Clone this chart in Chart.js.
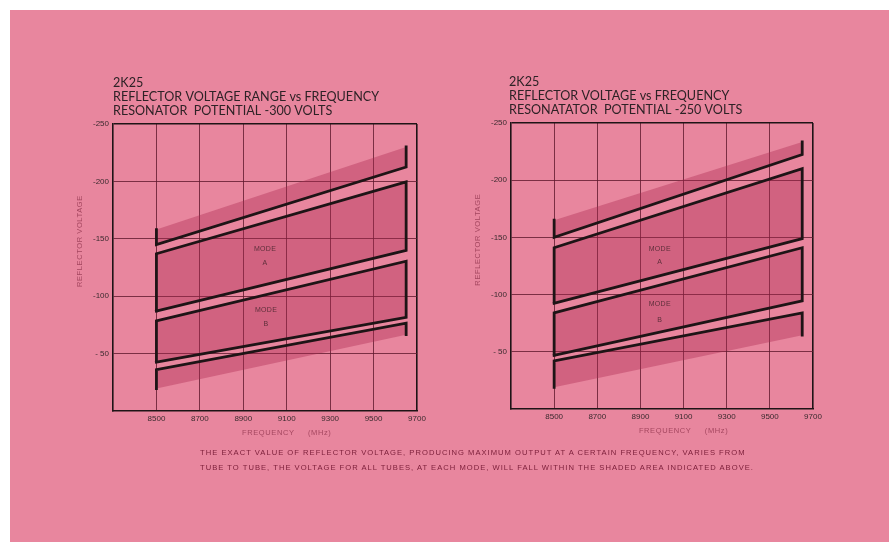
<!DOCTYPE html>
<html>
<head>
<meta charset="utf-8">
<script src="https://cdn.jsdelivr.net/npm/chart.js@4"></script>
<style>
  html, body { margin: 0; padding: 0; background: #fff; }
  #page { position: absolute; left: 10px; top: 10px; width: 879px; height: 532px; background: #e8869e; }
  .box { position: absolute; width: 375px; height: 385px; }
  #note { position: absolute; left: 200px; top: 446px; font: 7.6px "Liberation Sans", sans-serif;
          letter-spacing: 1.02px; line-height: 14.5px; color: #7a1d38; white-space: nowrap; }
</style>
</head>
<body>
<div id="page"></div>
<div class="box" style="left:60px; top:65px"><canvas id="chart300" width="375" height="385"></canvas></div>
<div class="box" style="left:455px; top:65px"><canvas id="chart250" width="375" height="385"></canvas></div>
<div id="note">THE EXACT VALUE OF REFLECTOR VOLTAGE, PRODUCING MAXIMUM OUTPUT AT A CERTAIN FREQUENCY, VARIES FROM<br>TUBE TO TUBE, THE VOLTAGE FOR ALL TUBES, AT EACH MODE, WILL FALL WITHIN THE SHADED AREA INDICATED ABOVE.</div>
<script>
// frequency (MHz) at the two ends of every band
const freqEnds = [8500, 9650];
const freqTicks = [8500, 8700, 8900, 9100, 9300, 9500, 9700];
const voltTicks = [-250, -200, -150, -100, -50];

// resonator -300 V : reflector voltage at [8500, 9650]
const shadeTop300  = [-158, -230];
const upperLine300 = [-145, -212.5];
const modeATop300  = [-137, -199.5];
const modeABot300  = [-87, -140];
const modeBTop300  = [-78.5, -130.5];
const modeBBot300  = [-42.5, -81.5];
const lowerLine300 = [-36, -76.5];
const shadeBot300  = [-19.5, -66.5];

// resonator -250 V
const shadeTop250  = [-165, -233.5];
const upperLine250 = [-150, -222.5];
const modeATop250  = [-141, -210];
const modeABot250  = [-92.5, -149];
const modeBTop250  = [-84, -141];
const modeBBot250  = [-47, -94.5];
const lowerLine250 = [-42, -84];
const shadeBot250  = [-19, -64.5];

const ink = '#1e1416';
const shadeColor = 'rgba(170,40,80,0.38)';

function band(top, bot) {
  return [
    {x: freqEnds[0], y: bot[0]}, {x: freqEnds[0], y: top[0]},
    {x: freqEnds[1], y: top[1]}, {x: freqEnds[1], y: bot[1]}
  ];
}
function box(top, bot) {
  return band(top, bot).concat([{x: freqEnds[0], y: bot[0]}]);
}
function tickedLine(line, tickEnd) {
  return [
    {x: freqEnds[0], y: tickEnd[0]}, {x: freqEnds[0], y: line[0]},
    {x: freqEnds[1], y: line[1]}, {x: freqEnds[1], y: tickEnd[1]}
  ];
}

function buildDatasets(s) {
  const edge = {borderColor: ink, borderWidth: 2.8, fill: false, pointRadius: 0,
                borderJoinStyle: 'miter', borderCapStyle: 'square'};
  const shade = {borderWidth: 0, borderColor: 'rgba(0,0,0,0)', backgroundColor: shadeColor,
                 fill: 'shape', pointRadius: 0};
  return [
    {...edge, data: tickedLine(s.upperLine, s.shadeTop)},
    {...edge, data: box(s.modeATop, s.modeABot)},
    {...edge, data: box(s.modeBTop, s.modeBBot)},
    {...edge, data: tickedLine(s.lowerLine, s.shadeBot)},
    {...shade, data: band(s.shadeTop, s.upperLine)},
    {...shade, data: band(s.modeATop, s.modeABot)},
    {...shade, data: band(s.modeBTop, s.modeBBot)},
    {...shade, data: band(s.lowerLine, s.shadeBot)}
  ];
}

// titles, axis titles and the MODE labels
const textPlugin = {
  id: 'pageText',
  afterDraw(chart, args, opts) {
    const ctx = chart.ctx;
    const area = chart.chartArea;
    const x = chart.scales.x, y = chart.scales.y;
    ctx.save();
    ctx.textBaseline = 'middle';

    ctx.fillStyle = '#2e2226';
    ctx.font = '12.6px Lato, "Liberation Sans", sans-serif';
    ctx.textAlign = 'left';
    opts.title.forEach((line, i) => ctx.fillText(line, area.left + opts.titleDx, area.top - 41 + i * 13.8));

    ctx.fillStyle = '#a4465f';
    ctx.font = '7.5px "Liberation Sans", sans-serif';
    ctx.letterSpacing = '0.6px';
    ctx.textAlign = 'center';
    ctx.fillText('FREQUENCY     (MHz)', x.getPixelForValue(9100), area.bottom + 22);
    ctx.save();
    ctx.translate(area.left - 33, y.getPixelForValue(-148));
    ctx.rotate(-Math.PI / 2);
    ctx.fillText('REFLECTOR VOLTAGE', 0, 0);
    ctx.restore();

    ctx.fillStyle = '#5e2f3b';
    ctx.font = '7px "Liberation Sans", sans-serif';
    ctx.letterSpacing = '0.3px';
    opts.modes.forEach(m => ctx.fillText(m.text, x.getPixelForValue(m.x), y.getPixelForValue(m.y)));
    ctx.restore();
  }
};

function makeChart(id, sets, title, modes, pad) {
  const edgeGrid = v => (v === -250 || v === 9700) ? ink : 'rgba(95,25,45,0.8)';
  return new Chart(document.getElementById(id), {
    type: 'line',
    data: {datasets: buildDatasets(sets)},
    plugins: [textPlugin],
    options: {
      responsive: false,
      animation: false,
      events: [],
      layout: {padding: {left: 0, top: pad.top, right: pad.right, bottom: 0}},
      plugins: {
        legend: {display: false},
        tooltip: {enabled: false},
        pageText: {title: title, titleDx: pad.titleDx, modes: modes}
      },
      scales: {
        x: {
          type: 'linear', min: 8300, max: 9700,
          afterBuildTicks: s => { s.ticks = freqTicks.map(v => ({value: v})); },
          afterFit: s => { s.height = pad.xHeight; },
          grid: {color: c => edgeGrid(c.tick && c.tick.value), lineWidth: c => (c.tick && c.tick.value === 9700) ? 1.6 : 1, drawTicks: false},
          border: {color: ink, width: 1.6},
          ticks: {
            padding: 3, color: '#3a2a2e', font: {family: '"Liberation Sans", sans-serif', size: 8},
            callback: v => String(v)
          }
        },
        y: {
          type: 'linear', min: -250, max: 0, reverse: true,
          afterBuildTicks: s => { s.ticks = voltTicks.map(v => ({value: v})); },
          afterFit: s => { s.width = pad.left; },
          grid: {color: c => edgeGrid(c.tick && c.tick.value), lineWidth: c => (c.tick && c.tick.value === -250) ? 1.6 : 1, drawTicks: false},
          border: {color: ink, width: 1.6},
          ticks: {
            padding: 4, color: '#3a2a2e', font: {family: '"Liberation Sans", sans-serif', size: 8},
            callback: v => v === -50 ? '- 50' : String(v)
          }
        }
      }
    }
  });
}

makeChart('chart300', {
  shadeTop: shadeTop300, upperLine: upperLine300, modeATop: modeATop300, modeABot: modeABot300,
  modeBTop: modeBTop300, modeBBot: modeBBot300, lowerLine: lowerLine300, shadeBot: shadeBot300
}, ['2K25', 'REFLECTOR VOLTAGE RANGE vs FREQUENCY', 'RESONATOR  POTENTIAL -300 VOLTS'],
[{x: 9000, y: -141, text: 'MODE'}, {x: 9000, y: -129, text: 'A'},
 {x: 9005, y: -88, text: 'MODE'}, {x: 9005, y: -76, text: 'B'}],
{top: 59, right: 18, left: 53, xHeight: 39, titleDx: 0});

makeChart('chart250', {
  shadeTop: shadeTop250, upperLine: upperLine250, modeATop: modeATop250, modeABot: modeABot250,
  modeBTop: modeBTop250, modeBBot: modeBBot250, lowerLine: lowerLine250, shadeBot: shadeBot250
}, ['2K25', 'REFLECTOR VOLTAGE vs FREQUENCY', 'RESONATATOR  POTENTIAL -250 VOLTS'],
[{x: 8990, y: -140, text: 'MODE'}, {x: 8990, y: -128.5, text: 'A'},
 {x: 8990, y: -91.5, text: 'MODE'}, {x: 8990, y: -78, text: 'B'}],
{top: 58, right: 17, left: 56, xHeight: 41, titleDx: -2});
</script>
</body>
</html>
